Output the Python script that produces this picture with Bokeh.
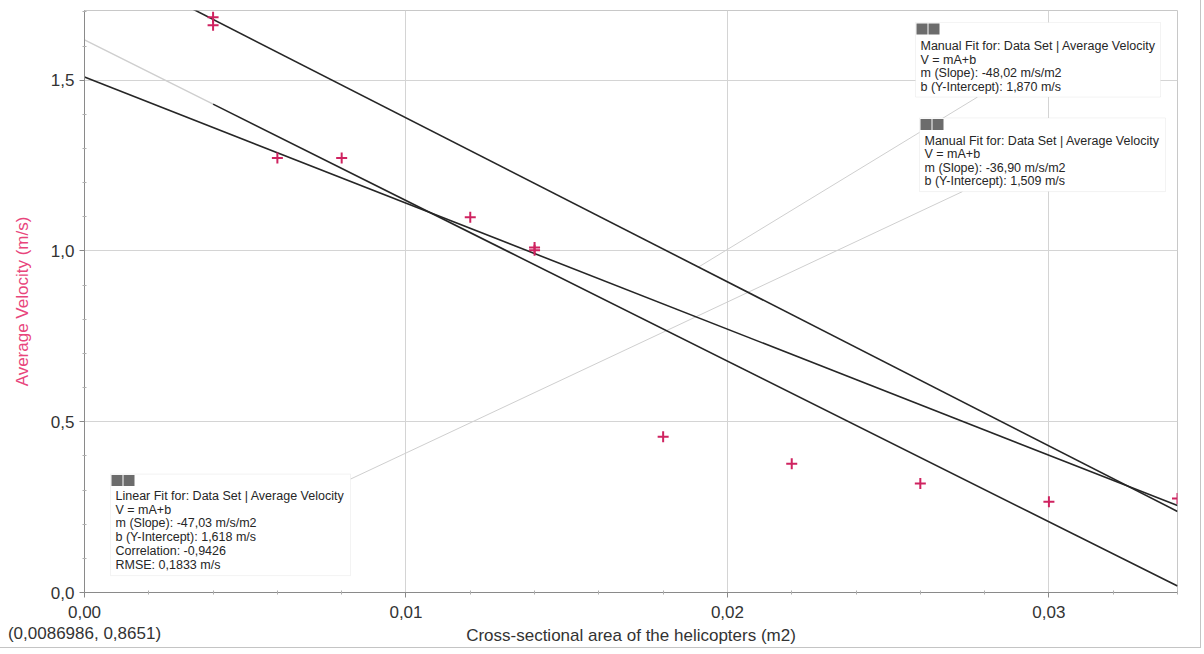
from bokeh.plotting import figure
from bokeh.models import FixedTicker, CustomJSTickFormatter, BoxAnnotation, Label, Range1d
from bokeh.embed import file_html
from bokeh.resources import INLINE

# ---------------- data ----------------
area = [0.004, 0.004, 0.006, 0.008, 0.012, 0.014, 0.014, 0.018, 0.022, 0.026, 0.030, 0.034]
velocity = [1.684, 1.661, 1.272, 1.272, 1.099, 1.010, 1.002, 0.456, 0.377, 0.319, 0.266, 0.275]

fit_slopes = [-47.03, -48.02, -36.90]       # linear, manual 1, manual 2
fit_intercepts = [1.618, 1.870, 1.509]

x_ticks = [0.0, 0.01, 0.02, 0.03]
x_minor = [0.002, 0.004, 0.006, 0.008, 0.012, 0.014, 0.016, 0.018,
           0.022, 0.024, 0.026, 0.028, 0.032, 0.034]
y_ticks = [0.0, 0.5, 1.0, 1.5]
y_minor = [0.1, 0.2, 0.3, 0.4, 0.6, 0.7, 0.8, 0.9, 1.1, 1.2, 1.3, 1.4, 1.6, 1.7]

x_title = "Cross-sectional area of the helicopters (m2)"
y_title = "Average Velocity (m/s)"
cursor_text = "(0,0086986, 0,8651)"

box_manual1 = ["Manual Fit for: Data Set | Average Velocity", "V = mA+b",
               "m (Slope): -48,02 m/s/m2", "b (Y-Intercept): 1,870 m/s"]
box_manual2 = ["Manual Fit for: Data Set | Average Velocity", "V = mA+b",
               "m (Slope): -36,90 m/s/m2", "b (Y-Intercept): 1,509 m/s"]
box_linear = ["Linear Fit for: Data Set | Average Velocity", "V = mA+b",
              "m (Slope): -47,03 m/s/m2", "b (Y-Intercept): 1,618 m/s",
              "Correlation: -0,9426", "RMSE: 0,1833 m/s"]

# ---------------- layout ----------------
X0, X1 = 0.0, 0.034
Y0, Y1 = 0.0, 1.704
W, H = 1201, 648
FL, FR, FT, FB = 84, 1177, 10, 595   # frame edges in page pixels
FONT = "Liberation Sans"
AXIS_FS = "17px"


def d(px, py):
    """page pixel -> data coordinates"""
    return (X0 + (px - FL) / (FR - FL) * (X1 - X0),
            Y0 + (FB - py) / (FB - FT) * (Y1 - Y0))


p = figure(width=W, height=H, output_backend="svg", toolbar_location=None,
           x_range=Range1d(X0, X1), y_range=Range1d(Y0, Y1),
           min_border_left=FL, min_border_right=W - FR,
           min_border_top=FT, min_border_bottom=H - FB,
           background_fill_color="white", border_fill_color="white")
p.styles = {"border-right": "1px solid #c4c4c4", "border-bottom": "1px solid #c4c4c4"}
p.outline_line_color = "#c8c8c8"

for ax, ticks, minor in ((p.xaxis[0], x_ticks, x_minor), (p.yaxis[0], y_ticks, y_minor)):
    ax.ticker = FixedTicker(ticks=ticks, minor_ticks=minor)
    ax.axis_line_color = "#8a8a8a"
    ax.major_tick_line_color = "#8a8a8a"
    ax.minor_tick_line_color = "#b0b0b0"
    ax.major_tick_out = 5
    ax.major_tick_in = 0
    ax.minor_tick_out = 2
    ax.minor_tick_in = 2
    ax.major_label_text_font = FONT
    ax.major_label_text_font_size = AXIS_FS
    ax.major_label_text_color = "#333333"
    ax.axis_label_text_font = FONT
    ax.axis_label_text_font_size = AXIS_FS
    ax.axis_label_text_font_style = "normal"

p.xaxis.formatter = CustomJSTickFormatter(args=dict(extra=cursor_text), code="""
    const s = tick.toFixed(2).replace('.', ',');
    return Math.abs(tick) < 1e-12 ? s + "\\n" + extra : s;
""")
p.yaxis.formatter = CustomJSTickFormatter(code="return tick.toFixed(1).replace('.', ',');")
p.xaxis.major_label_text_line_height = 1.15
p.xaxis.axis_label = x_title
p.xaxis.axis_label_text_color = "#333333"
p.xaxis.axis_label_standoff = -20
p.yaxis.axis_label = y_title
p.yaxis.axis_label_text_color = "#e8457c"
p.yaxis.axis_label_standoff = 16

p.grid.grid_line_color = "#d4d4d4"
p.grid.grid_line_width = 1

GRAY = "#cfcfcf"
DARK = "#262626"

# connector lines (drawn first, under the boxes)
ax_, ay_ = d(350, 481)
bx_, by_ = d(962, 192)
p.line([ax_, bx_], [ay_, by_], line_color=GRAY, line_width=1)
cx = 0.0191
cy = fit_slopes[1] * cx + fit_intercepts[1]
ex, ey = d(977, 97)
p.line([cx, ex], [cy, ey], line_color=GRAY, line_width=1)

# linear fit: extrapolated part light, data range dark
m, b = fit_slopes[0], fit_intercepts[0]
xmin_data = min(area)
p.line([X0, xmin_data], [m * X0 + b, m * xmin_data + b], line_color=GRAY, line_width=1.5)
p.line([xmin_data, X1], [m * xmin_data + b, m * X1 + b], line_color=DARK, line_width=1.6)
# manual fits
for m, b in zip(fit_slopes[1:], fit_intercepts[1:]):
    p.line([X0, X1], [m * X0 + b, m * X1 + b], line_color=DARK, line_width=1.6)

# data points
p.scatter(area, velocity, marker="cross", size=11, line_width=2, color="#cf2360")


def add_box(left, top, right, bottom, lines, line_y, text_x):
    l, t = d(left, top)
    r, bt = d(right, bottom)
    p.add_layout(BoxAnnotation(left=l, right=r, top=t, bottom=bt, fill_color="white",
                               fill_alpha=1, line_color="#d6d6d6", line_width=1, level="overlay"))
    for k in range(2):
        bl, btop = d(left + 1 + k * 12, top + 1)
        br, bb = d(left + 12 + k * 12, top + 12)
        p.add_layout(BoxAnnotation(left=bl, right=br, top=btop, bottom=bb, fill_color="#6c6c6c",
                                   fill_alpha=1, line_color=None, level="overlay"))
    for txt, yy in zip(lines, line_y):
        lx, ly = d(text_x, yy)
        p.add_layout(Label(x=lx, y=ly, text=txt, text_font=FONT, text_font_size="12.5px",
                           text_baseline="middle", text_color="#262626", level="overlay"))


add_box(915, 22, 1160, 97, box_manual1, [46, 59.5, 73, 86.5], 920)
add_box(919, 118, 1165, 192, box_manual2, [141, 154.5, 168, 181.5], 924)
add_box(110, 476, 350, 578, box_linear, [498, 512, 525.5, 539, 553, 567], 115)

open("out.html", "w").write(file_html(p, INLINE))
